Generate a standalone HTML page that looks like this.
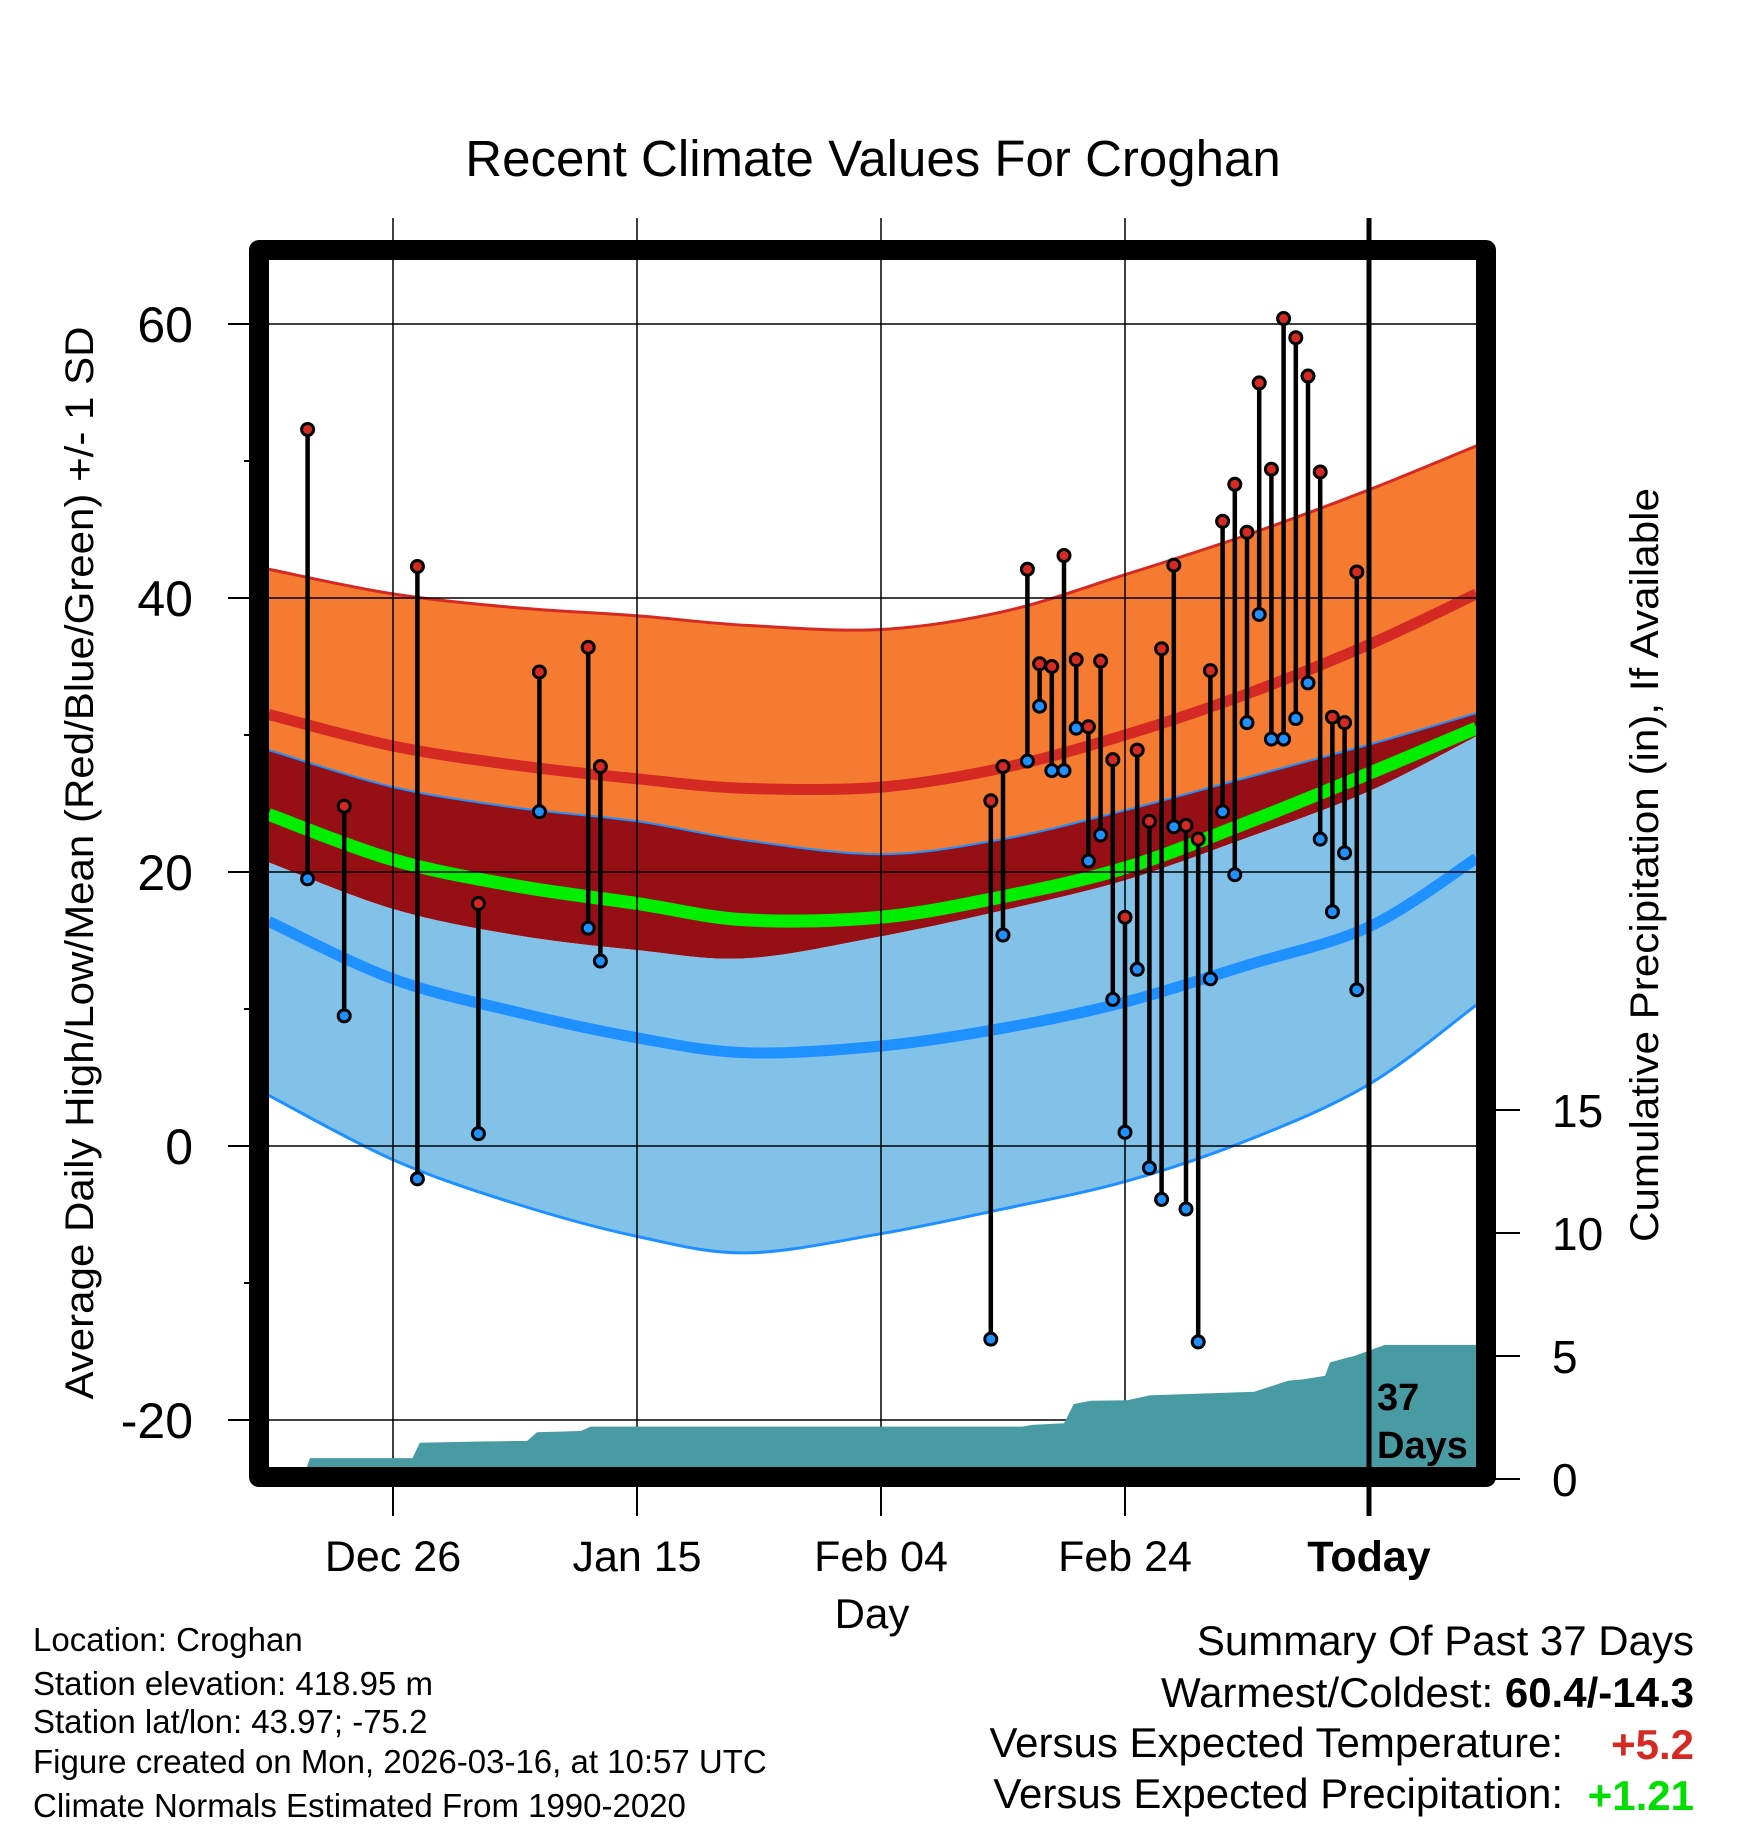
<!DOCTYPE html>
<html><head><meta charset="utf-8"><style>
html,body{margin:0;padding:0;background:#fff;}
svg{display:block;font-family:"Liberation Sans",sans-serif;}
</style></head><body>
<svg id="chart" width="1748" height="1828" viewBox="0 0 1748 1828" xmlns="http://www.w3.org/2000/svg">
<defs><clipPath id="clip"><rect x="269" y="260" width="1207" height="1207"/></clipPath></defs>
<rect width="1748" height="1828" fill="#fff"/>
<text x="873" y="176" font-size="51" text-anchor="middle">Recent Climate Values For Croghan</text>
<g id="plot" clip-path="url(#clip)"></g>
<g id="axes"></g>
<text transform="translate(93,863) rotate(-90)" font-size="40" text-anchor="middle" textLength="1073" lengthAdjust="spacingAndGlyphs">Average Daily High/Low/Mean (Red/Blue/Green) +/- 1 SD</text>
<text transform="translate(1658,865) rotate(-90)" font-size="40" text-anchor="middle" textLength="754" lengthAdjust="spacingAndGlyphs">Cumulative Precipitation (in), If Available</text>
<text x="872" y="1628" font-size="42" text-anchor="middle">Day</text>
<g font-size="33">
<text x="33" y="1651">Location: Croghan</text>
<text x="33" y="1695">Station elevation: 418.95 m</text>
<text x="33" y="1733">Station lat/lon: 43.97; -75.2</text>
<text x="33" y="1773">Figure created on Mon, 2026-03-16, at 10:57 UTC</text>
<text x="33" y="1817">Climate Normals Estimated From 1990-2020</text>
</g>
<g font-size="42" text-anchor="end">
<text x="1694" y="1655">Summary Of Past 37 Days</text>
<text x="1694" y="1707">Warmest/Coldest: <tspan font-weight="bold">60.4/-14.3</tspan></text>
<text x="1563" y="1757">Versus Expected Temperature:</text>
<text x="1694" y="1759" fill="#d42a23" font-weight="bold">+5.2</text>
<text x="1563" y="1808">Versus Expected Precipitation:</text>
<text x="1694" y="1810" fill="#00dd00" font-weight="bold">+1.21</text>
</g>
</svg>
<script>
// normals
const normDays = [-10.2, 0, 10, 20, 29, 40, 50, 60, 70, 80, 88.8];
const highPlusSD = [42.1, 40.3, 39.3, 38.7, 38.0, 37.7, 39.0, 41.7, 44.6, 47.9, 51.1];
const meanHigh = [31.5, 29.2, 27.8, 26.8, 26.1, 26.2, 27.6, 30.0, 33.0, 36.6, 40.3];
const highMinusSD = [28.9, 26.2, 24.7, 23.7, 22.3, 21.3, 22.4, 24.5, 26.9, 29.3, 31.6];
const meanTemp = [24.2, 20.9, 19.0, 17.7, 16.5, 16.7, 18.2, 20.3, 23.6, 27.2, 30.5];
const lowPlusSD = [20.7, 17.3, 15.4, 14.3, 13.7, 15.3, 17.2, 19.4, 22.5, 25.9, 29.9];
const meanLow = [16.4, 12.2, 9.8, 7.9, 6.8, 7.3, 8.6, 10.5, 13.2, 16.0, 21.0];
const lowMinusSD = [3.7, -1.0, -4.2, -6.6, -7.8, -6.4, -4.6, -2.6, 0.4, 4.5, 10.3];
// observations (day 0 = Dec 26)
const obsDays = [-7,-4,2,7,12,16,17,49,50,52,53,54,55,56,57,58,59,60,61,62,63,64,65,66,67,68,69,70,71,72,73,74,75,76,77,78,79];
const obsHigh = [52.3,24.8,42.3,17.7,34.6,36.4,27.7,25.2,27.7,42.1,35.2,35.0,43.1,35.5,30.6,35.4,28.2,16.7,28.9,23.7,36.3,42.4,23.4,22.4,34.7,45.6,48.3,44.8,55.7,49.4,60.4,59.0,56.2,49.2,31.3,30.9,41.9];
const obsLow = [19.5,9.5,-2.4,0.9,24.4,15.9,13.5,-14.1,15.4,28.1,32.1,27.4,27.4,30.5,20.8,22.7,10.7,1.0,12.9,-1.6,-3.9,23.3,-4.6,-14.3,12.2,24.4,19.8,30.9,38.8,29.7,29.7,31.2,33.8,22.4,17.1,21.4,11.4];
// cumulative precip breakpoints
const precipDays = [-7.4,-6.8,1.6,2.2,6.6,11.0,11.8,15.4,16.2,51.6,52.4,55.0,55.8,57.2,60.2,62.0,70.6,73.4,74.6,76.4,76.8,78.2,78.8,80.2,81.3,88.8];
const precipCum = [0,0.85,0.85,1.47,1.52,1.55,1.9,1.95,2.13,2.13,2.2,2.27,3.05,3.18,3.2,3.4,3.55,4.0,4.05,4.2,4.74,4.93,5.0,5.25,5.45,5.45];
const xTickDays = [0,20,40,60,80];
const xTickLabels = ["Dec 26","Jan 15","Feb 04","Feb 24","Today"];
const yTicks = [60,40,20,0,-20];
const yMinor = [50,30,10,-10];
const pTicks = [0,5,10,15];

const X = d => 393 + d*12.2;
const Y = v => 324 + (60 - v)*13.7;
const P = p => 1479 - p*24.6;
const NS = 'http://www.w3.org/2000/svg';
const plot = document.getElementById('plot');
const axes = document.getElementById('axes');
function mk(tag, attrs, parent){const e=document.createElementNS(NS,tag);for(const k in attrs)e.setAttribute(k,attrs[k]);parent.appendChild(e);return e;}
function pts(arr){return normDays.map((d,i)=>[X(d),Y(arr[i])]);}
function smooth(p){
  let s='';
  for(let i=0;i<p.length-1;i++){
    const p0=p[Math.max(i-1,0)],p1=p[i],p2=p[i+1],p3=p[Math.min(i+2,p.length-1)];
    const c1=[p1[0]+(p2[0]-p0[0])/6,p1[1]+(p2[1]-p0[1])/6];
    const c2=[p2[0]-(p3[0]-p1[0])/6,p2[1]-(p3[1]-p1[1])/6];
    s+=' C'+c1[0].toFixed(1)+','+c1[1].toFixed(1)+' '+c2[0].toFixed(1)+','+c2[1].toFixed(1)+' '+p2[0].toFixed(1)+','+p2[1].toFixed(1);
  }
  return s;
}
function band(top,bot,fill,name){
  const a=pts(top), b=pts(bot).reverse();
  const d='M'+a[0][0]+','+a[0][1]+smooth(a)+' L'+b[0][0]+','+b[0][1]+smooth(b)+' Z';
  const e = mk('path',{d:d,fill:fill},plot);
  
  
}
function line(arr,color,w,name){
  const a=pts(arr);
  const e = mk('path',{d:'M'+a[0][0]+','+a[0][1]+smooth(a),fill:'none',stroke:color,'stroke-width':w},plot);
  
  
}
band(highPlusSD, highMinusSD, '#f47b30', 'high-sd-band');
band(highMinusSD, lowPlusSD, '#960f15', 'overlap-band');
band(lowPlusSD, lowMinusSD, '#82c1e8', 'low-sd-band');
line(highPlusSD, '#d42a23', 3, 'high-plus-sd-edge');
line(highMinusSD, '#1e90ff', 2, 'high-minus-sd-edge');
line(lowMinusSD, '#1e90ff', 3, 'low-minus-sd-edge');
line(meanHigh, '#d42a23', 11, 'mean-high-line');
line(meanTemp, '#00ee00', 13, 'mean-temp-line');
line(meanLow, '#1e90ff', 11, 'mean-low-line');
yTicks.forEach(v=>{
  const g = mk('line',{x1:269,x2:1476,y1:Y(v),y2:Y(v),stroke:'#000','stroke-width':1.5},plot);
  
  
});
xTickDays.forEach((d,i)=>{
  if(i===4) return;
  const g = mk('line',{x1:X(d),x2:X(d),y1:260,y2:1467,stroke:'#000','stroke-width':1.5},plot);
  
  
});
{
  let p = [X(precipDays[0])+','+P(0)];
  precipDays.forEach((d,i)=>p.push(X(d).toFixed(1)+','+P(precipCum[i]).toFixed(1)));
  p.push(X(precipDays[precipDays.length-1])+','+P(0));
  const e = mk('polygon',{points:p.join(' '),fill:'#489ba3'},plot);
  
  
}
obsDays.forEach((d,i)=>{
  const s = mk('line',{x1:X(d),x2:X(d),y1:Y(obsHigh[i]),y2:Y(obsLow[i]),stroke:'#000','stroke-width':4.5},plot);
  
  
});
obsDays.forEach((d,i)=>{
  const h = mk('circle',{cx:X(d),cy:Y(obsHigh[i]),r:6,fill:'#d42a23',stroke:'#000','stroke-width':3},plot);
  
  
  const l = mk('circle',{cx:X(d),cy:Y(obsLow[i]),r:6,fill:'#1e90ff',stroke:'#000','stroke-width':3},plot);
  
  
});
{
  const t = mk('line',{x1:X(80),x2:X(80),y1:218,y2:1516,stroke:'#000','stroke-width':5},axes);
  
  
  const a = mk('text',{x:X(80)+8,y:1410,'font-size':38,'font-weight':'bold'},axes);
  a.textContent = '37';
  
  
  const b = mk('text',{x:X(80)+8,y:1458,'font-size':38,'font-weight':'bold'},axes);
  b.textContent = 'Days';
  
  
}
xTickDays.forEach((d,i)=>{
  const t1 = mk('line',{x1:X(d),x2:X(d),y1:218,y2:250,stroke:'#000','stroke-width':1.5},axes);
  
  
  const t2 = mk('line',{x1:X(d),x2:X(d),y1:1477,y2:1516,stroke:'#000','stroke-width':2},axes);
  
  
  const lb = mk('text',{x:X(d),y:1571,'font-size':43,'text-anchor':'middle','font-weight':i===4?'bold':'normal'},axes);
  lb.textContent = xTickLabels[i];
  
  
});
yTicks.forEach(v=>{
  const t = mk('line',{x1:228,x2:259,y1:Y(v),y2:Y(v),stroke:'#000','stroke-width':2},axes);
  
  
  const lb = mk('text',{x:193,y:Y(v)+18,'font-size':50,'text-anchor':'end'},axes);
  lb.textContent = v;
  
  
});
yMinor.forEach(v=>{
  const t = mk('line',{x1:244,x2:259,y1:Y(v),y2:Y(v),stroke:'#000','stroke-width':2},axes);
  
  
});
pTicks.forEach(p=>{
  const t = mk('line',{x1:1486,x2:1520,y1:P(p),y2:P(p),stroke:'#000','stroke-width':2},axes);
  
  
  const lb = mk('text',{x:1552,y:P(p)+17,'font-size':46},axes);
  lb.textContent = p;
  
  
});
{
  const f = mk('rect',{x:259,y:250,width:1227,height:1227,fill:'none',stroke:'#000','stroke-width':20,'stroke-linejoin':'round'},axes);
  
  
}
</script>
</body></html>
